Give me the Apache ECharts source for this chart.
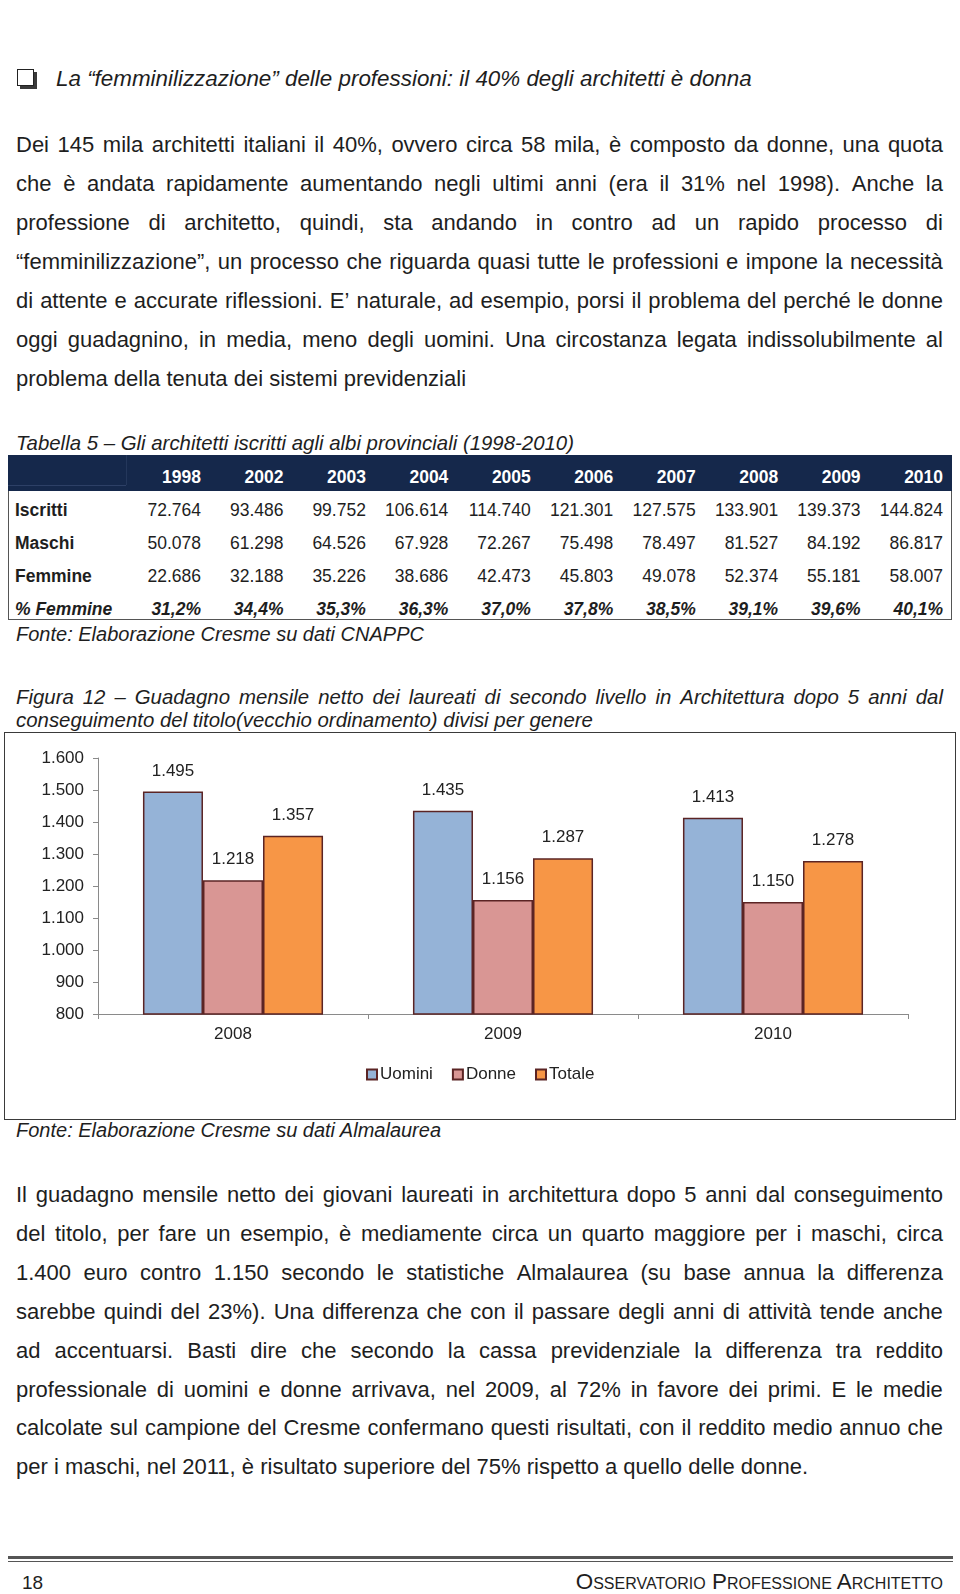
<!DOCTYPE html>
<html>
<head>
<meta charset="utf-8">
<script src="https://cdn.jsdelivr.net/npm/echarts@6/dist/echarts.min.js"></script>
<style>
  html, body { margin:0; padding:0; background:#fff; }
  body { width:960px; height:1594px; position:relative; overflow:hidden;
         font-family:"Liberation Sans", Arial, sans-serif; color:#1e1e1e; }
  .abs { position:absolute; white-space:nowrap; }
  .para { font-size:22px; }
  .jline { position:absolute; left:16px; width:927px; display:flex; justify-content:space-between; white-space:nowrap; }
  .it { font-style:italic; }
  .cap { font-size:20.4px; font-style:italic; }
  .tcell { position:absolute; font-size:17.5px; white-space:nowrap; line-height:20px; }
</style>
</head>
<body>
<div id="page"></div>
<div id="chartBox" style="position:absolute;left:4px;top:732px;width:952px;height:388px;border:1.5px solid #3a3a3a;box-sizing:border-box;"></div>
<div id="chart" style="position:absolute;left:0;top:732px;width:960px;height:388px;"></div>
<script>
// ---------- DATA ----------
const tableYears = ['1998','2002','2003','2004','2005','2006','2007','2008','2009','2010'];
const iscritti = [72764, 93486, 99752, 106614, 114740, 121301, 127575, 133901, 139373, 144824];
const maschi   = [50078, 61298, 64526, 67928, 72267, 75498, 78497, 81527, 84192, 86817];
const femmine  = [22686, 32188, 35226, 38686, 42473, 45803, 49078, 52374, 55181, 58007];
const pctFemmine = ['31,2%','34,4%','35,3%','36,3%','37,0%','37,8%','38,5%','39,1%','39,6%','40,1%'];

const chartYears = ['2008','2009','2010'];
const uomini = [1495, 1435, 1413];
const donne  = [1218, 1156, 1150];
const totale = [1357, 1287, 1278];
const yMin = 800, yMax = 1600, yStep = 100;

const para1 = [
  'Dei 145 mila architetti italiani il 40%, ovvero circa 58 mila, è composto da donne, una quota',
  'che è andata rapidamente aumentando negli ultimi anni (era il 31% nel 1998). Anche la',
  'professione di architetto, quindi, sta andando in contro ad un rapido processo di',
  '“femminilizzazione”, un processo che riguarda quasi tutte le professioni e impone la necessità',
  'di attente e accurate riflessioni. E’ naturale, ad esempio, porsi il problema del perché le donne',
  'oggi guadagnino, in media, meno degli uomini. Una circostanza legata indissolubilmente al',
  'problema della tenuta dei sistemi previdenziali'
];
const para2 = [
  'Il guadagno mensile netto dei giovani laureati in architettura dopo 5 anni dal conseguimento',
  'del titolo, per fare un esempio, è mediamente circa un quarto maggiore per i maschi, circa',
  '1.400 euro contro 1.150 secondo le statistiche Almalaurea (su base annua la differenza',
  'sarebbe quindi del 23%). Una differenza che con il passare degli anni di attività tende anche',
  'ad accentuarsi. Basti dire che secondo la cassa previdenziale la differenza tra reddito',
  'professionale di uomini e donne arrivava, nel 2009, al 72% in favore dei primi. E le medie',
  'calcolate sul campione del Cresme confermano questi risultati, con il reddito medio annuo che',
  'per i maschi, nel 2011, è risultato superiore del 75% rispetto a quello delle donne.'
];

// ---------- helpers ----------
function fmt(n) {
  return String(n).replace(/\B(?=(\d{3})+(?!\d))/g, '.');
}
const page = document.getElementById('page');
function addText(txt, left, centerY, cls, extra) {
  const d = document.createElement('div');
  d.className = 'abs ' + (cls || '');
  d.textContent = txt;
  d.style.left = left + 'px';
  d.style.top = (centerY - 13) + 'px';
  d.style.lineHeight = '26px';
  if (extra) Object.assign(d.style, extra);
  page.appendChild(d);
  return d;
}
function addPara(lines, firstCenter, step) {
  lines.forEach((ln, i) => {
    const cy = firstCenter + i * step;
    if (i < lines.length - 1) {
      const d = document.createElement('div');
      d.className = 'jline para';
      d.style.top = (cy - 13) + 'px';
      d.style.lineHeight = '26px';
      ln.split(' ').forEach(w => {
        const s = document.createElement('span');
        s.textContent = w;
        d.appendChild(s);
      });
      page.appendChild(d);
    } else {
      addText(ln, 16, cy, 'para');
    }
  });
}

// ---------- heading ----------
const cb = document.createElement('div');
Object.assign(cb.style, {position:'absolute', left:'17px', top:'69px', width:'17px', height:'17px',
  border:'1.5px solid #222', boxShadow:'3px 3px 0 #3a3a3a', boxSizing:'border-box', background:'#fff'});
page.appendChild(cb);
addText('La “femminilizzazione” delle professioni: il 40% degli architetti è donna', 56, 79, 'para it', {fontSize:'22.4px'});

addPara(para1, 145, 39);

// ---------- table ----------
addText('Tabella 5 – Gli architetti iscritti agli albi provinciali (1998-2010)', 16, 443, 'cap');
const hdr = document.createElement('div');
Object.assign(hdr.style, {position:'absolute', left:'8px', top:'455px', width:'944px', height:'36px', background:'#15284b'});
page.appendChild(hdr);
const hdrLine = document.createElement('div');
Object.assign(hdrLine.style, {position:'absolute', left:'8px', top:'485px', width:'118px', height:'1px', background:'#2d4066'});
page.appendChild(hdrLine);
const hdrV = document.createElement('div');
Object.assign(hdrV.style, {position:'absolute', left:'126px', top:'455px', width:'1px', height:'30px', background:'#24375b'});
page.appendChild(hdrV);
// body borders
[['8px','491px','1px','129px'],['951px','491px','1px','129px'],['8px','619px','944px','1px']].forEach(b => {
  const d = document.createElement('div');
  Object.assign(d.style, {position:'absolute', left:b[0], top:b[1], width:b[2], height:b[3], background:'#555'});
  page.appendChild(d);
});
const colRight = tableYears.map((_, i) => 201 + i * 82.45);
function cell(txt, right, cy, style) {
  const d = document.createElement('div');
  d.className = 'tcell';
  d.textContent = txt;
  d.style.right = (960 - right) + 'px';
  d.style.top = (cy - 10) + 'px';
  if (style) Object.assign(d.style, style);
  page.appendChild(d);
}
tableYears.forEach((y, i) => cell(y, colRight[i], 477, {color:'#fff', fontWeight:'bold'}));
const rows = [
  ['Iscritti', iscritti.map(fmt), 510, {}],
  ['Maschi', maschi.map(fmt), 543, {}],
  ['Femmine', femmine.map(fmt), 576, {}],
  ['% Femmine', pctFemmine, 609, {fontWeight:'bold', fontStyle:'italic'}]
];
rows.forEach(r => {
  const lab = document.createElement('div');
  lab.className = 'tcell';
  lab.textContent = r[0];
  lab.style.left = '15px';
  lab.style.top = (r[2] - 10) + 'px';
  lab.style.fontWeight = 'bold';
  if (r[3].fontStyle) lab.style.fontStyle = 'italic';
  page.appendChild(lab);
  r[1].forEach((v, i) => cell(v, colRight[i], r[2], r[3]));
});
addText('Fonte: Elaborazione Cresme su dati CNAPPC', 16, 634, 'cap', {fontSize:'20px'});

// ---------- figure caption ----------
(function(){
  const d = document.createElement('div');
  d.className = 'jline cap';
  d.style.top = (697 - 13) + 'px';
  d.style.lineHeight = '26px';
  'Figura 12 – Guadagno mensile netto dei laureati di secondo livello in Architettura dopo 5 anni dal'.split(' ').forEach(w => {
    const s = document.createElement('span'); s.textContent = w; d.appendChild(s);
  });
  page.appendChild(d);
})();
addText('conseguimento del titolo(vecchio ordinamento) divisi per genere', 16, 720, 'cap');

addText('Fonte: Elaborazione Cresme su dati Almalaurea', 16, 1130, 'cap', {fontSize:'20px'});

addPara(para2, 1195, 38.9);

// ---------- footer ----------
const f1 = document.createElement('div');
Object.assign(f1.style, {position:'absolute', left:'8px', top:'1556px', width:'945px', height:'3px', background:'#555'});
page.appendChild(f1);
const f2 = document.createElement('div');
Object.assign(f2.style, {position:'absolute', left:'8px', top:'1561px', width:'945px', height:'1px', background:'#555'});
page.appendChild(f2);
addText('18', 22, 1583, '', {fontSize:'19px'});
addText('Osservatorio Professione Architetto', 0, 1582, '', {fontSize:'22.4px', fontVariant:'small-caps', left:'auto', right:'17px'});

// ---------- chart ----------
const chart = echarts.init(document.getElementById('chart'), null, {renderer:'canvas'});
const FONT = 'Liberation Sans';
const labelStyle = {show:true, position:'top', distance:12, fontSize:17, color:'#222', fontFamily:FONT,
  formatter: p => fmt(p.value)};
const border = {borderColor:'#5b2424', borderWidth:1.5};
chart.setOption({
  animation:false,
  textStyle:{fontFamily:FONT},
  grid:{left:98, right:52, top:26, bottom:106, containLabel:false},
  legend:{
    data:['Uomini','Donne','Totale'],
    left:366, top:334, padding:0,
    itemWidth:10, itemHeight:10, itemGap:19,
    textStyle:{fontSize:17, color:'#222', fontFamily:FONT, padding:[0,0,0,-2]},
    icon:'rect'
  },
  xAxis:{
    type:'category', data:chartYears,
    axisLine:{lineStyle:{color:'#8a8a8a', width:1}},
    axisTick:{show:true, length:5, lineStyle:{color:'#8a8a8a'}},
    axisLabel:{fontSize:17, color:'#222', margin:12, fontFamily:FONT}
  },
  yAxis:{
    type:'value', min:yMin, max:yMax, interval:yStep,
    axisLine:{show:true, lineStyle:{color:'#8a8a8a', width:1}},
    axisTick:{show:true, length:5, lineStyle:{color:'#8a8a8a'}},
    splitLine:{show:false},
    axisLabel:{fontSize:17, color:'#222', margin:14, fontFamily:FONT, formatter: v => fmt(v)}
  },
  series:[
    {name:'Uomini', type:'bar', data:uomini, barGap:'0%', barCategoryGap:'33.3%',
     itemStyle:Object.assign({color:'#95b3d7'}, border), label:labelStyle},
    {name:'Donne', type:'bar', data:donne, barGap:'0%', barCategoryGap:'33.3%',
     itemStyle:Object.assign({color:'#d99694'}, border), label:labelStyle},
    {name:'Totale', type:'bar', data:totale, barGap:'0%', barCategoryGap:'33.3%',
     itemStyle:Object.assign({color:'#f79646'}, border), label:labelStyle}
  ]
});
</script>
</body>
</html>
